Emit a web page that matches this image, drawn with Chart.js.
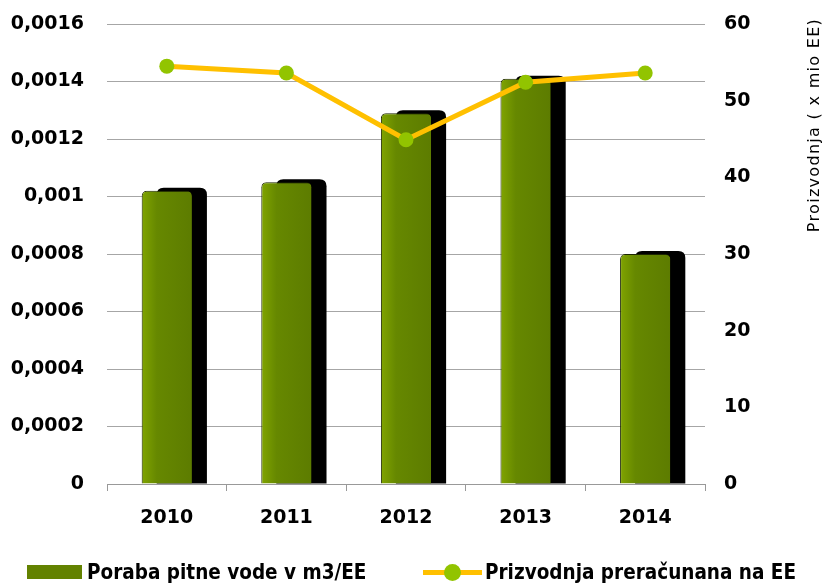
<!DOCTYPE html>
<html>
<head>
<meta charset="utf-8">
<script src="https://cdn.jsdelivr.net/npm/chart.js@4/dist/chart.umd.min.js"></script>
<style>
  html, body { margin: 0; padding: 0; background: #fff; }
  #wrap { position: relative; width: 829px; height: 583px; }
  #legend { position: absolute; left: 0; top: 559px; width: 829px; height: 26px;
    font-family: "Liberation Sans Narrow", "DejaVu Sans Condensed", sans-serif; font-weight: bold;
    font-size: 20.5px; color: #000; white-space: nowrap; }
  .item { position: absolute; top: 0; display: flex; align-items: center; height: 26px; }
  .box { width: 55px; height: 14px; background: #638200; margin-right: 5px; }
  .sym { position: relative; width: 59px; height: 17px; margin-right: 3px; }
  .sym .ln { position: absolute; left: 0; right: 0; top: 6px; height: 5px; background: #ffc000; }
  .sym .dot { position: absolute; left: 21px; top: 0; width: 17px; height: 17px; border-radius: 50%; background: #92c400; }
</style>
</head>
<body>
<div id="wrap">
  <canvas id="myChart" width="829" height="583"></canvas>
  <div id="legend"></div>
</div>
<script>
var years = ["2010", "2011", "2012", "2013", "2014"];
var porabaVode = [0.00102, 0.00105, 0.00129, 0.00141, 0.0008];
var proizvodnja = [54.5, 53.6, 44.9, 52.4, 53.6];
var leftTicks = [0, 0.0002, 0.0004, 0.0006, 0.0008, 0.001, 0.0012, 0.0014, 0.0016];
var rightTicks = [0, 10, 20, 30, 40, 50, 60];

var barLabel = "Poraba pitne vode v m3/EE";
var lineLabel = "Prizvodnja preračunana na EE";
var rightTitle = "Proizvodnja ( x mio EE)";

var tickFont = { family: "DejaVu Sans", weight: "bold", size: 19 };

function fmt(v) {
  return String(Math.round(v * 10000) / 10000).replace(".", ",");
}

// green bars with a lighter left edge
function barFill(c) {
  var chart = c.chart;
  if (!chart.chartArea || !chart.scales.x) return "#638200";
  var x = chart.scales.x.getPixelForValue(c.dataIndex);
  var g = chart.ctx.createLinearGradient(x - 25, 0, x + 25, 0);
  g.addColorStop(0, "#80a400");
  g.addColorStop(0.3, "#668800");
  g.addColorStop(1, "#5d7c00");
  return g;
}

function roundTop(ctx, l, t, w, h, r) {
  ctx.beginPath();
  ctx.moveTo(l, t + h);
  ctx.lineTo(l, t + r);
  ctx.quadraticCurveTo(l, t, l + r, t);
  ctx.lineTo(l + w - r, t);
  ctx.quadraticCurveTo(l + w, t, l + w, t + r);
  ctx.lineTo(l + w, t + h);
  ctx.closePath();
}

// black "back face" behind the bars
var barShadow = {
  id: "barShadow",
  beforeDatasetDraw: function(chart, args) {
    if (args.index !== 0) return;
    var ctx = chart.ctx;
    ctx.save();
    ctx.fillStyle = "#000";
    args.meta.data.forEach(function(bar) {
      var p = bar.getProps(["x", "y", "base", "width"], true);
      var l = p.x - p.width / 2 + 15;
      var t = p.y - 3;
      roundTop(ctx, l, t, p.width, p.base - t, 7);
      ctx.fill();
    });
    ctx.restore();
  }
};

// right axis title, reading bottom to top
var rightAxisTitle = {
  id: "rightAxisTitle",
  afterDraw: function(chart) {
    var ctx = chart.ctx;
    ctx.save();
    ctx.translate(815, 125);
    ctx.rotate(-Math.PI / 2);
    ctx.font = "16px 'DejaVu Sans'";
    ctx.letterSpacing = "1.3px";
    ctx.fillStyle = "#000";
    ctx.textAlign = "center";
    ctx.textBaseline = "middle";
    ctx.fillText(rightTitle, 0, 0);
    ctx.restore();
  }
};

var chart = new Chart(document.getElementById("myChart"), {
  type: "bar",
  data: {
    labels: years,
    datasets: [{
      type: "bar",
      label: barLabel,
      data: porabaVode,
      yAxisID: "y",
      backgroundColor: barFill,
      borderColor: "#1c2600",
      borderWidth: { left: 1, top: 1, right: 0, bottom: 0 },
      borderRadius: { topLeft: 5, topRight: 5 },
      borderSkipped: "bottom",
      barPercentage: 0.42,
      categoryPercentage: 1,
      order: 1
    }, {
      type: "line",
      label: lineLabel,
      data: proizvodnja,
      yAxisID: "y1",
      borderColor: "#ffc000",
      borderWidth: 5,
      pointRadius: 7.5,
      pointBackgroundColor: "#92c400",
      pointBorderColor: "#92c400",
      pointBorderWidth: 0,
      tension: 0,
      fill: false,
      order: 0
    }]
  },
  options: {
    responsive: false,
    animation: false,
    layout: { padding: { top: 24, bottom: 50, left: 0, right: 0 } },
    plugins: {
      legend: { display: false },
      tooltip: { enabled: false }
    },
    scales: {
      x: {
        offset: true,
        grid: { display: true, drawOnChartArea: false, drawTicks: true, tickLength: 7, color: "#999", offset: true },
        border: { display: true, color: "#999" },
        ticks: { color: "#000", font: tickFont, padding: 16 },
        afterFit: function(s) { s.height = 49; }
      },
      y: {
        position: "left",
        min: 0,
        max: 0.0016,
        afterBuildTicks: function(s) { s.ticks = leftTicks.map(function(v) { return { value: v }; }); },
        grid: { color: "#a6a6a6", drawTicks: false },
        border: { display: false },
        ticks: { color: "#000", font: tickFont, padding: 23, callback: function(v) { return fmt(v); } },
        afterFit: function(s) { s.width = 107; s.paddingTop = 0; s.paddingBottom = 0; }
      },
      y1: {
        position: "right",
        min: 0,
        max: 60,
        afterBuildTicks: function(s) { s.ticks = rightTicks.map(function(v) { return { value: v }; }); },
        grid: { display: false, drawTicks: false },
        border: { display: false },
        ticks: { color: "#000", font: tickFont, padding: 19 },
        afterFit: function(s) { s.width = 124; s.paddingTop = 0; s.paddingBottom = 0; }
      }
    }
  },
  plugins: [barShadow, rightAxisTitle]
});
chart.update();

// legend built from the dataset labels
var legend = document.getElementById("legend");
legend.innerHTML =
  '<div class="item" style="left:27px"><div class="box"></div><span>' + chart.data.datasets[0].label + '</span></div>' +
  '<div class="item" style="left:423px"><div class="sym"><div class="ln"></div><div class="dot"></div></div><span>' + chart.data.datasets[1].label + '</span></div>';
</script>
</body>
</html>
